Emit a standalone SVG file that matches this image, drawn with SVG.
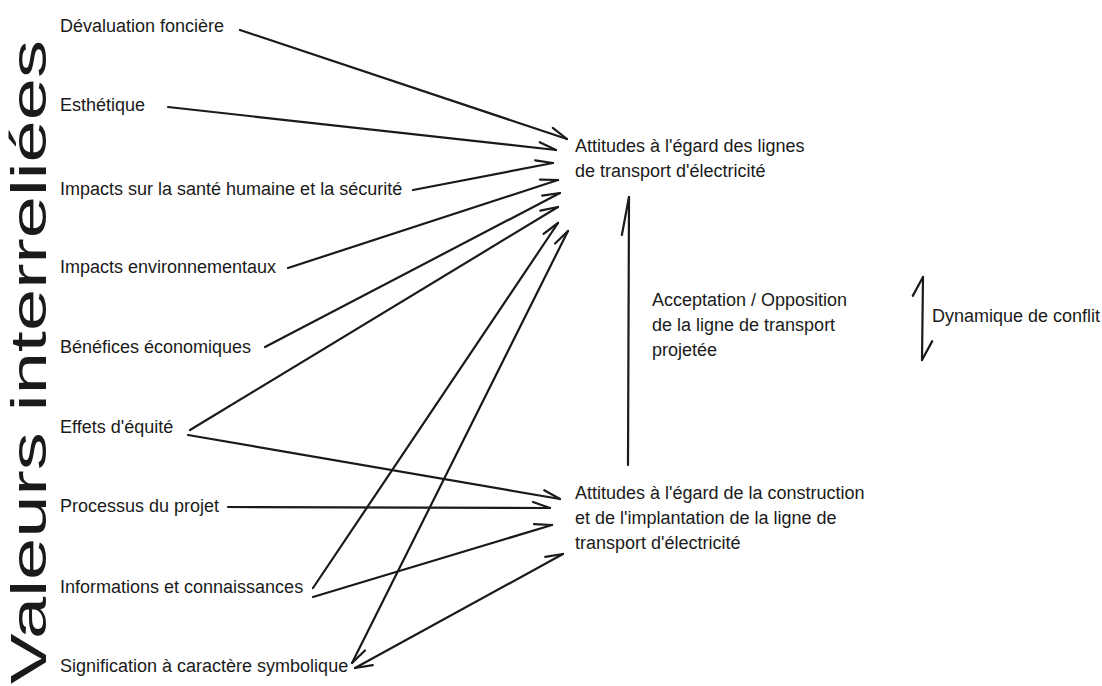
<svg xmlns="http://www.w3.org/2000/svg" width="1102" height="686" viewBox="0 0 1102 686">
<defs>
<style>
.t{font-family:"Liberation Sans",Arial,sans-serif;font-size:18px;fill:#1a1a1a}
.title{font-family:"Liberation Sans",Arial,sans-serif;font-size:50px;fill:#1a1a1a}
.c{fill:none;stroke:#1a1a1a;stroke-width:2.2;stroke-linecap:round}
.b{fill:none;stroke:#1a1a1a;stroke-width:2.2;stroke-linecap:round}
</style>
<marker id="barb" markerUnits="userSpaceOnUse" markerWidth="40" markerHeight="40" refX="0" refY="0" viewBox="-20 -20 40 40" orient="auto-start-reverse" overflow="visible">
<path class="b" d="M0,0 L-17,-6"/>
</marker>
<marker id="barb-long" markerUnits="userSpaceOnUse" markerWidth="50" markerHeight="50" refX="0" refY="0" viewBox="-25 -25 50 50" orient="auto-start-reverse" overflow="visible">
<path class="b" d="M0,0 L-38,-7"/>
</marker>
<marker id="barb-wide" markerUnits="userSpaceOnUse" markerWidth="40" markerHeight="40" refX="0" refY="0" viewBox="-20 -20 40 40" orient="auto-start-reverse" overflow="visible">
<path class="b" d="M0,0 L-19,-10"/>
</marker>
</defs>
<rect width="1102" height="686" fill="#ffffff"/>
<g id="title">
<text class="title" transform="translate(46,684) rotate(-90)" textLength="644" lengthAdjust="spacingAndGlyphs">Valeurs interreliées</text>
</g>
<g id="n-devaluation"><text class="t" x="60" y="32">Dévaluation foncière</text></g>
<g id="n-esthetique"><text class="t" x="60" y="111">Esthétique</text></g>
<g id="n-sante"><text class="t" x="60" y="195">Impacts sur la santé humaine et la sécurité</text></g>
<g id="n-env"><text class="t" x="60" y="273">Impacts environnementaux</text></g>
<g id="n-benefices"><text class="t" x="60" y="353">Bénéfices économiques</text></g>
<g id="n-equite"><text class="t" x="60" y="433">Effets d'équité</text></g>
<g id="n-processus"><text class="t" x="60" y="512">Processus du projet</text></g>
<g id="n-informations"><text class="t" x="60" y="593">Informations et connaissances</text></g>
<g id="n-signification"><text class="t" x="60" y="672">Signification à caractère symbolique</text></g>
<g id="n-attitudes-lignes">
<text class="t" x="575" y="152">Attitudes à l'égard des lignes</text>
<text class="t" x="575" y="177">de transport d'électricité</text>
</g>
<g id="n-attitudes-construction">
<text class="t" x="575" y="499">Attitudes à l'égard de la construction</text>
<text class="t" x="575" y="524">et de l'implantation de la ligne de</text>
<text class="t" x="575" y="549">transport d'électricité</text>
</g>
<g id="n-acceptation">
<text class="t" x="652" y="306">Acceptation / Opposition</text>
<text class="t" x="652" y="331">de la ligne de transport</text>
<text class="t" x="652" y="356">projetée</text>
</g>
<g id="n-dynamique"><text class="t" x="932" y="322">Dynamique de conflit</text></g>
<g id="connectors">
<path class="c" d="M240,30 L567,139" marker-end="url(#barb)"/>
<path class="c" d="M168,107 L556,150" marker-end="url(#barb)"/>
<path class="c" d="M413,190 L553,163" marker-end="url(#barb)"/>
<path class="c" d="M288,268 L558,180" marker-end="url(#barb)"/>
<path class="c" d="M265,347 L560,193" marker-end="url(#barb)"/>
<path class="c" d="M190,430 L558,207" marker-end="url(#barb)"/>
<path class="c" d="M313,588 L558,223" marker-end="url(#barb)"/>
<path class="c" d="M352,663 L568,231" marker-start="url(#barb)" marker-end="url(#barb)"/>
<path class="c" d="M188,435 L560,499" marker-end="url(#barb)"/>
<path class="c" d="M228,507 L550,508" marker-end="url(#barb)"/>
<path class="c" d="M313,597 L552,525" marker-end="url(#barb)"/>
<path class="c" d="M355,668 L563,554" marker-start="url(#barb)" marker-end="url(#barb)"/>
<path class="c" d="M628,465 L629,197" marker-end="url(#barb-long)"/>
<path class="c" d="M922,360 L923,277" marker-start="url(#barb-wide)" marker-end="url(#barb-wide)"/>
</g>
</svg>
